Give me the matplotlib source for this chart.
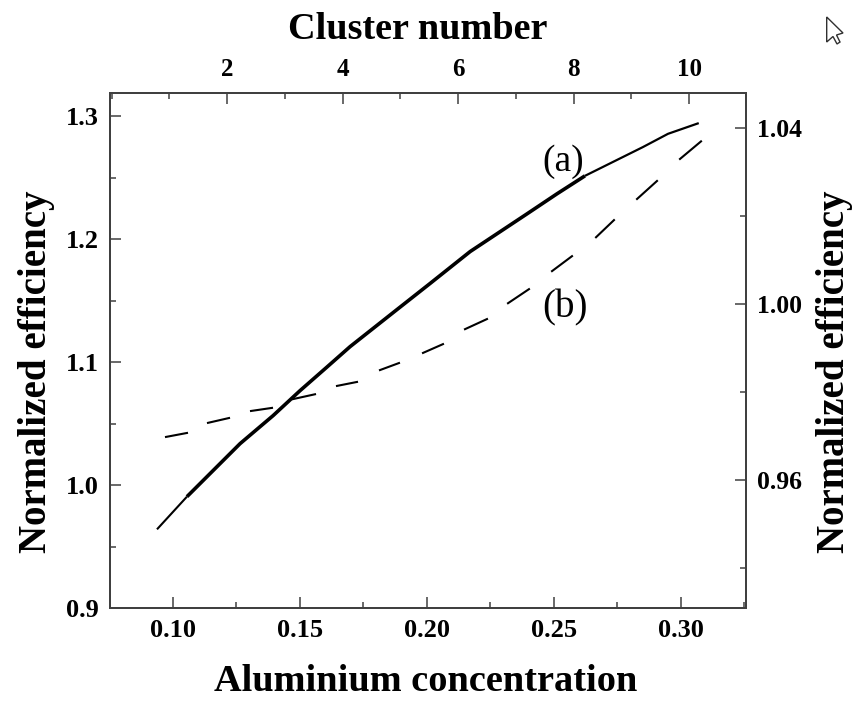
import matplotlib
matplotlib.use('Agg')
from matplotlib import pyplot as plt
from matplotlib.patches import Polygon
from matplotlib.ticker import FixedLocator, MultipleLocator, FormatStrFormatter

# curve (a): aluminium concentration vs left axis
conc_a = [0.0937, 0.1055, 0.1264, 0.1394, 0.15, 0.1606, 0.1697, 0.188, 0.2012,
          0.217, 0.2394, 0.2512, 0.2622, 0.285, 0.2949, 0.307]
eff_a = [0.964, 0.9906, 1.0337, 1.0565, 1.0768, 1.096, 1.1126, 1.1425, 1.164,
         1.19, 1.2207, 1.237, 1.2516, 1.275, 1.2858, 1.2945]

# curve (b): cluster number vs right axis, start and end of every dash
cluster_b = [0.944, 1.307, 1.671, 2.035, 2.416, 2.779, 3.143, 3.524, 3.905, 4.251,
             4.649, 4.978, 5.394, 5.74, 6.121, 6.502, 6.866, 7.229, 7.628, 7.974,
             8.39, 8.701, 9.1, 9.446, 9.844, 10.208]
eff_b = [0.9698, 0.9707, 0.973, 0.9741, 0.9757, 0.9764, 0.9784, 0.9795, 0.9814, 0.9823,
         0.985, 0.9866, 0.9889, 0.9909, 0.9943, 0.9966, 1.0002, 1.0034, 1.0075, 1.0109,
         1.0152, 1.0191, 1.0239, 1.028, 1.033, 1.037]

cluster_ticks = [2, 4, 6, 8, 10]

WIDTH, HEIGHT = 853, 701
FRAME = '#404040'

plt.rcParams['font.family'] = ['Liberation Serif', 'DejaVu Serif']
plt.rcParams['font.weight'] = 'bold'
plt.rcParams['axes.labelweight'] = 'bold'

fig = plt.figure(figsize=(WIDTH / 100, HEIGHT / 100), dpi=100)
ax = fig.add_axes([110 / WIDTH, 1 - 608 / HEIGHT, 636 / WIDTH, 515 / HEIGHT])
ax_right = ax.twinx()
ax_top = ax_right.twiny()

ax.set_xlim(0.0752, 0.3256)
ax.set_ylim(0.9, 1.319)
ax_right.set_ylim(0.9309, 1.048)
ax_top.set_xlim(-0.026, 10.987)

ax.plot(conc_a[:2], eff_a[:2], c='black', lw=1.5, solid_capstyle='butt')
ax.plot(conc_a[1:13], eff_a[1:13], c='black', lw=2.6, solid_capstyle='butt')
ax.plot(conc_a[12:], eff_a[12:], c='black', lw=1.6, solid_capstyle='butt')

for i in range(0, len(cluster_b), 2):
    ax_top.plot(cluster_b[i:i + 2], eff_b[i:i + 2], c='black', lw=1.5)

ax.xaxis.set_major_locator(MultipleLocator(0.05))
ax.xaxis.set_minor_locator(MultipleLocator(0.025))
ax.yaxis.set_major_locator(MultipleLocator(0.1))
ax.yaxis.set_minor_locator(MultipleLocator(0.05))
ax.xaxis.set_major_formatter(FormatStrFormatter('%.2f'))
ax.yaxis.set_major_formatter(FormatStrFormatter('%.1f'))
ax_right.yaxis.set_major_locator(MultipleLocator(0.04))
ax_right.yaxis.set_minor_locator(MultipleLocator(0.02))
ax_right.yaxis.set_major_formatter(FormatStrFormatter('%.2f'))
ax_top.xaxis.set_major_locator(FixedLocator(cluster_ticks))
ax_top.xaxis.set_minor_locator(MultipleLocator(1))

for axis in (ax, ax_right, ax_top):
    axis.tick_params(which='major', direction='in', length=8, width=1.1, color=FRAME,
                     labelsize=19, pad=8)
    axis.tick_params(which='minor', direction='in', length=4, width=1.1, color=FRAME)
    for spine in axis.spines.values():
        spine.set_color(FRAME)
        spine.set_linewidth(1.2)
ax_top.tick_params(which='major', labelsize=18, pad=9)
ax_right.tick_params(which='major', labelsize=18.5)

ax.set_xlabel('Aluminium concentration', fontsize=27.6, labelpad=16, x=0.497)
ax.set_ylabel('Normalized efficiency', fontsize=28, labelpad=8, y=0.458)
ax_right.set_ylabel('Normalized efficiency', fontsize=28, labelpad=10, y=0.458)
ax_top.set_xlabel('Cluster number', fontsize=27.5, labelpad=13, x=0.484)

ax.text(0.2535, 1.2635, '(a)', fontsize=27, fontweight='normal', ha='center', va='center')
ax.text(0.2545, 1.1445, '(b)', fontsize=28, fontweight='normal', ha='center', va='center')

# mouse pointer left in the corner of the screenshot
pointer_px = [(826.7, 17), (826.7, 42), (833, 36.5), (837, 44), (840, 42), (836.5, 35), (843, 33)]
fig.add_artist(Polygon([(x / WIDTH, 1 - y / HEIGHT) for x, y in pointer_px], closed=True,
                       facecolor='white', edgecolor='#303030', lw=1,
                       transform=fig.transFigure))

fig.savefig('out.png', dpi=100)
